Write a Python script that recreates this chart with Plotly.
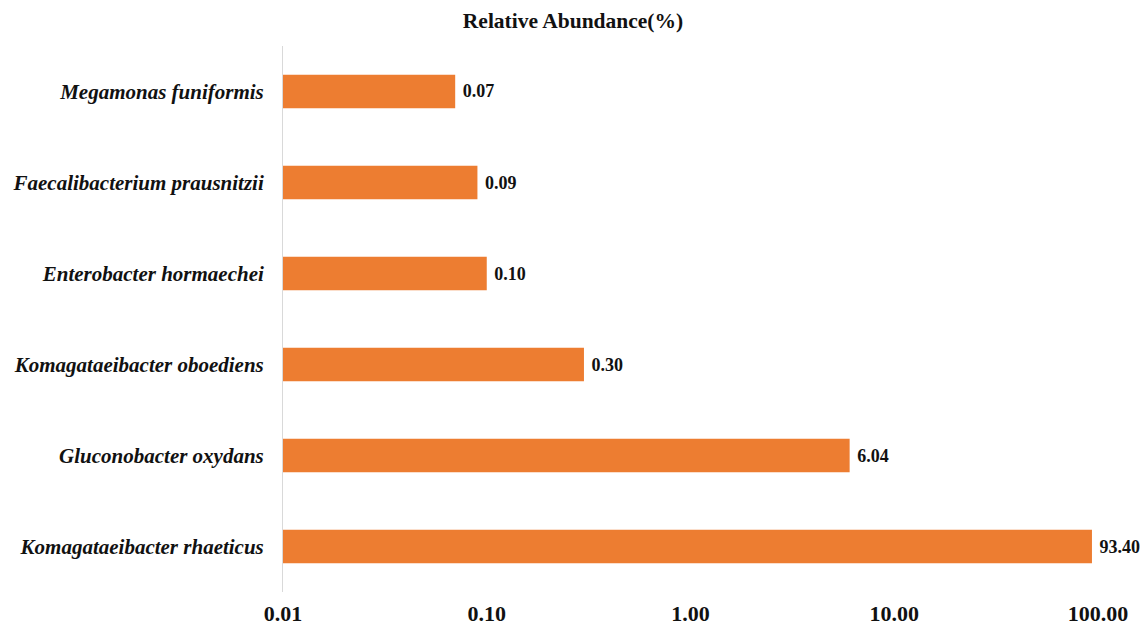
import plotly.graph_objects as go

# Species, listed bottom to top on the category axis
species = [
    "Komagataeibacter rhaeticus",
    "Gluconobacter oxydans",
    "Komagataeibacter oboediens",
    "Enterobacter hormaechei",
    "Faecalibacterium prausnitzii",
    "Megamonas funiformis",
]
abundance = [93.40, 6.04, 0.30, 0.10, 0.09, 0.07]

tick_values = [0.01, 0.1, 1, 10, 100]
tick_labels = ["0.01", "0.10", "1.00", "10.00", "100.00"]

serif = "Liberation Serif, Times New Roman, serif"
orange = "#ED7D31"
ink = "#111111"

fig = go.Figure(
    go.Bar(
        y=species,
        x=abundance,
        orientation="h",
        marker=dict(color=orange, line=dict(width=0)),
        texttemplate="\u00a0%{x:.2f}",
        textposition="outside",
        textfont=dict(family=serif, size=18, color=ink, weight="bold"),
        cliponaxis=False,
    )
)

fig.update_layout(
    width=1146,
    height=629,
    margin=dict(l=283, r=48, t=46, b=37),
    paper_bgcolor="white",
    plot_bgcolor="white",
    bargap=0.63,
    showlegend=False,
    title=dict(
        text="<b>Relative Abundance(%)</b>",
        x=0.5,
        xanchor="center",
        y=0.968,
        yanchor="middle",
        font=dict(family=serif, size=21.5, color=ink),
    ),
    xaxis=dict(
        type="log",
        range=[-2, 2],
        tickvals=tick_values,
        ticktext=tick_labels,
        tickfont=dict(family=serif, size=22, color=ink, weight="bold"),
        showgrid=False,
        zeroline=False,
        showline=False,
        ticks="",
        ticklabelstandoff=6,
        automargin=False,
    ),
    yaxis=dict(
        type="category",
        categoryorder="array",
        categoryarray=species,
        tickfont=dict(family=serif, size=21, color=ink, weight="bold", style="italic"),
        showgrid=False,
        zeroline=False,
        showline=True,
        linecolor="#d9d9d9",
        linewidth=1,
        ticks="",
        ticklabelstandoff=14,
        automargin=False,
    ),
)

fig.write_html("out.html")
